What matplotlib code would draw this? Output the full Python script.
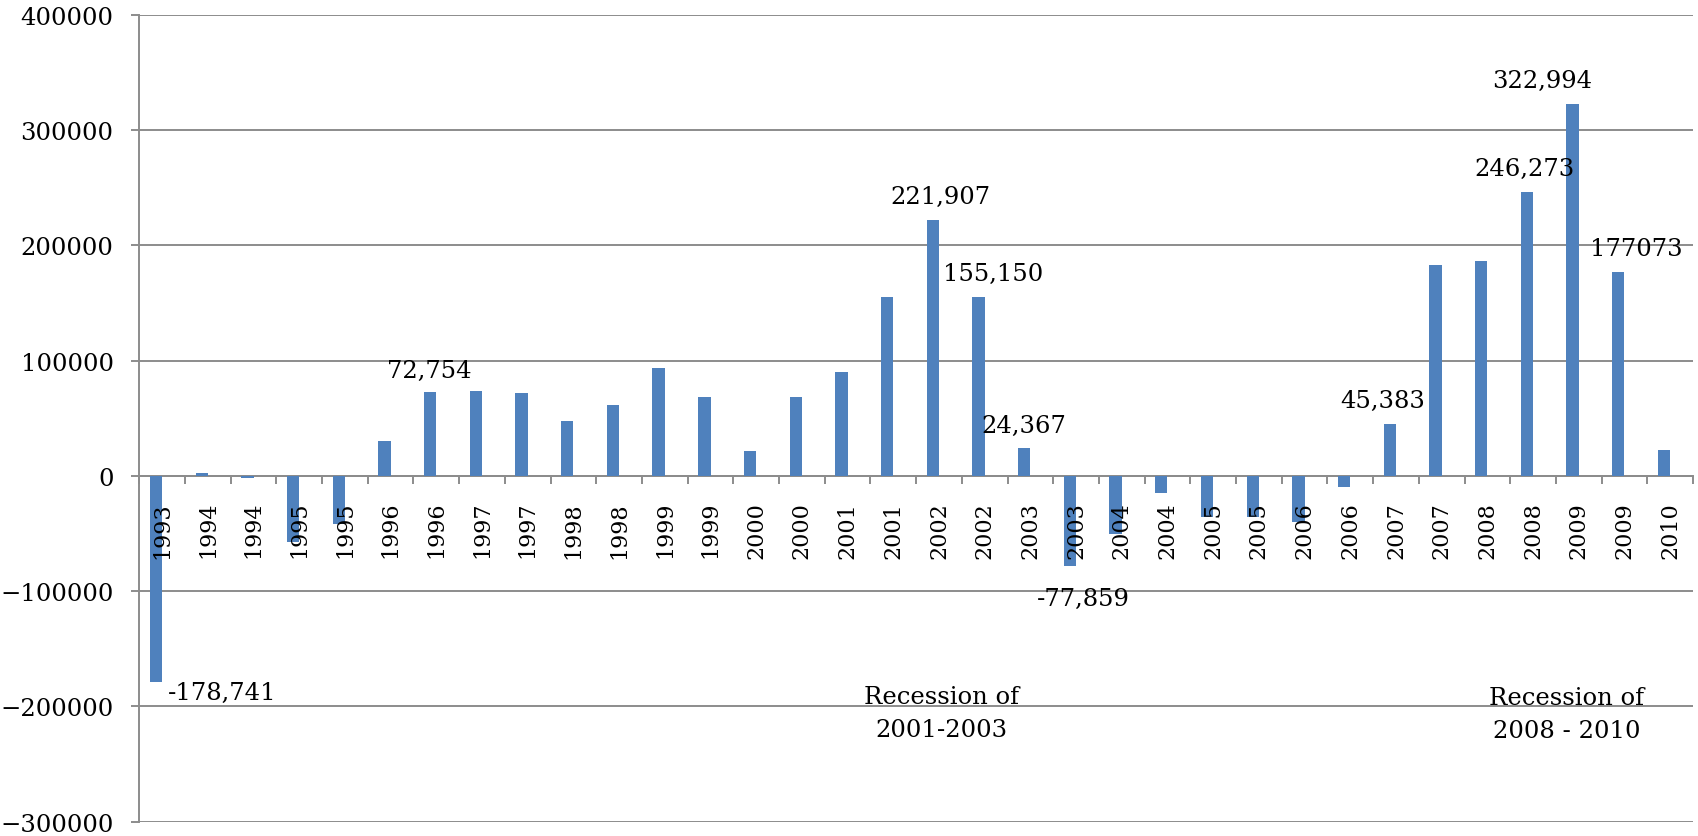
import matplotlib
matplotlib.use("Agg")
import matplotlib.pyplot as plt
import numpy as np

# half-year periods, labelled by year
years = ["1993", "1994", "1994", "1995", "1995", "1996", "1996", "1997", "1997",
         "1998", "1998", "1999", "1999", "2000", "2000", "2001", "2001", "2002",
         "2002", "2003", "2003", "2004", "2004", "2005", "2005", "2006", "2006",
         "2007", "2007", "2008", "2008", "2009", "2009", "2010"]
values = [-178741, 3000, -2000, -57000, -42000, 30000, 72754, 74000, 71600,
          48000, 61500, 93400, 68200, 21500, 68400, 89900, 155000, 221907,
          155150, 24367, -77859, -50500, -15000, -36000, -36000, -40000, -9300,
          45383, 183200, 186700, 246273, 322994, 177073, 22500]

# bars that carry a value label, and where each label sits (x in bar units, y in data units)
labelled = [0, 6, 17, 18, 19, 20, 27, 30, 31, 32]
label_pos = [(1.31, -188000), (5.84, 91900), (17.04, 242300), (18.18, 175400),
             (18.86, 44100), (20.15, -106300), (26.71, 65200), (29.82, 266700),
             (30.19, 343500), (32.25, 197100)]

recessions = ["Recession of\n2001-2003", "Recession of\n2008 - 2010"]
recession_pos = [(17.06, -205700), (30.74, -206800)]

BLUE = "#4F81BD"
GRID = "#8C8C8C"
FONT = "DejaVu Serif"

plt.rcParams["font.family"] = FONT

fig = plt.figure(figsize=(16.98, 8.37), dpi=100)
ax = fig.add_axes([139.3 / 1698, 1 - 822.7 / 837, (1693 - 139.3) / 1698, (822.7 - 16) / 837])

yticks = np.arange(-300000, 400001, 100000)

# gridlines behind the bars, axis (and year labels) in front of them
for yv in yticks:
    ax.axhline(yv, color=GRID, linewidth=1.4, zorder=0.5)

x = np.arange(len(values))
ax.bar(x - 0.135, values, width=0.27, color=BLUE, zorder=2)
ax.set_axisbelow(False)

ax.set_xlim(-0.5, len(values) - 0.5)
ax.set_ylim(-300000, 400000)
ax.set_yticks(yticks)
ax.tick_params(axis="y", length=5.5, width=1.4, color=GRID, pad=13, labelsize=17.5)

# category axis crosses at zero; tick marks sit between the bars
ax.spines["bottom"].set_position(("data", 0))
ax.spines["bottom"].set_color(GRID)
ax.spines["bottom"].set_linewidth(1.4)
ax.spines["bottom"].set_zorder(1)
ax.spines["left"].set_color(GRID)
ax.spines["left"].set_linewidth(1.4)
for side in ("top", "right"):
    ax.spines[side].set_visible(False)

ax.set_xticks(x)
ax.set_xticklabels(years, rotation=90, fontsize=16)
ax.set_xticks(np.arange(-0.5, len(values), 1.0), minor=True)
ax.tick_params(axis="x", which="major", length=0, pad=18)
ax.tick_params(axis="x", which="minor", length=5.5, width=1.4, color=GRID)

for idx, (lx, ly) in zip(labelled, label_pos):
    v = values[idx]
    txt = str(v) if idx == 32 else f"{v:,}"
    ax.text(lx, ly, txt, ha="center", va="center", fontsize=17.5, zorder=5)

for txt, (rx, ry) in zip(recessions, recession_pos):
    ax.text(rx, ry, txt, ha="center", va="center", fontsize=17.5,
            linespacing=1.55, zorder=5)

fig.savefig("out.png", dpi=100)
